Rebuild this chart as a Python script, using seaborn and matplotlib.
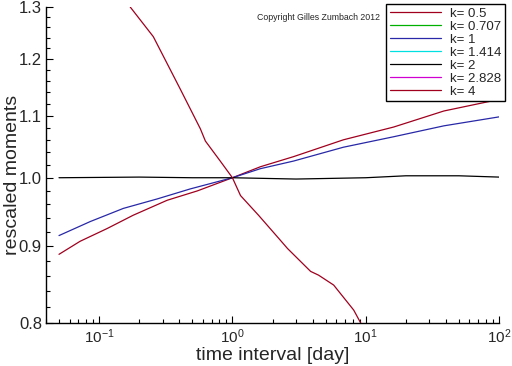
import numpy as np
import pandas as pd
import matplotlib
matplotlib.use("Agg")
import matplotlib.pyplot as plt
from matplotlib.lines import Line2D
from matplotlib.ticker import FixedLocator, FixedFormatter, LogLocator, NullFormatter
import seaborn as sns

# Valores
x_k05 = [0.05, 0.072, 0.115, 0.18, 0.324, 0.546, 1.0, 1.62, 2.88, 6.8, 16.2, 38.6, 91.7, 100]
y_k05 = [0.889, 0.907, 0.925, 0.944, 0.966, 0.980, 1.0, 1.017, 1.033, 1.060, 1.081, 1.108, 1.126, 1.13]

x_k1 = [0.05, 0.086, 0.152, 0.273, 0.483, 1.0, 1.62, 2.88, 6.8, 16.2, 38.6, 100]
y_k1 = [0.915, 0.935, 0.954, 0.968, 0.983, 1.0, 1.014, 1.026, 1.048, 1.065, 1.083, 1.098]

x_k2 = [0.05, 0.2, 0.5, 1.0, 3.0, 10, 20, 50, 100]
y_k2 = [1.0, 1.001, 1.0, 1.0, 0.998, 1.0, 1.003, 1.003, 1.001]

x_k4 = [0.171, 0.255, 0.406, 0.575, 0.627, 0.81, 1.0, 1.15, 1.57, 2.30, 2.59,
        3.86, 4.43, 5.75, 8.13, 9.17]
y_k4 = [1.30, 1.242, 1.146, 1.078, 1.058, 1.026, 1.0, 0.973, 0.944, 0.908, 0.897,
        0.866, 0.861, 0.848, 0.816, 0.80]

k_labels = ["k= 0.5", "k= 0.707", "k= 1", "k= 1.414", "k= 2", "k= 2.828", "k= 4"]
k_colors = ["#a0001e", "#00b000", "#2828a8", "#00e0e0", "#000000", "#d000d0", "#a0001e"]

y_major = [0.8, 0.9, 1.0, 1.1, 1.2, 1.3]

series = {
    "k= 0.5": (x_k05, y_k05),
    "k= 1": (x_k1, y_k1),
    "k= 2": (x_k2, y_k2),
    "k= 4": (x_k4, y_k4),
}

frames = []
for name, (xs, ys) in series.items():
    frames.append(pd.DataFrame({"x": xs, "y": ys, "k": name}))
df = pd.concat(frames, ignore_index=True)

sns.set_theme(style="white")
plt.rcParams["font.family"] = ["Liberation Sans", "DejaVu Sans"]

fig = plt.figure(figsize=(5.12, 3.66), dpi=100)
ax = fig.add_axes([0.09, 0.1175, 499 / 512 - 0.09, 0.8635])

palette = dict(zip(k_labels, k_colors))
for name in series:
    sub = df[df["k"] == name]
    sns.lineplot(data=sub, x="x", y="y", color=palette[name], lw=0.9,
                 ax=ax, legend=False, sort=False, estimator=None)

ax.set_xscale("log")
ax.set_yscale("log")
ax.set_xlim(0.04, 100)
ax.set_ylim(0.8, 1.3)

# Ejes: solo izquierda y abajo, marcas hacia dentro
for side in ["top", "right"]:
    ax.spines[side].set_visible(False)
for side in ["left", "bottom"]:
    ax.spines[side].set_color("black")
    ax.spines[side].set_linewidth(1.0)

ax.yaxis.set_major_locator(FixedLocator(y_major))
ax.yaxis.set_major_formatter(FixedFormatter([f"{v:.1f}" for v in y_major]))
ax.yaxis.set_minor_locator(FixedLocator(np.arange(0.8, 1.301, 0.02)))
ax.yaxis.set_minor_formatter(NullFormatter())
ax.xaxis.set_major_locator(LogLocator(base=10))
ax.xaxis.set_minor_locator(LogLocator(base=10, subs=np.arange(2, 10)))
ax.xaxis.set_minor_formatter(NullFormatter())

ax.tick_params(axis="both", which="major", direction="in", length=5, width=0.8,
               color="black", left=True, bottom=True)
ax.tick_params(axis="both", which="minor", direction="in", length=3, width=0.8,
               color="black", left=True, bottom=True)
ax.tick_params(axis="y", which="major", labelsize=12, pad=3)
ax.tick_params(axis="x", which="major", labelsize=11, pad=3)

ax.set_xlabel("time interval [day]", fontsize=14, labelpad=1)
ax.set_ylabel("rescaled moments", fontsize=14, va="center")
ax.yaxis.set_label_coords(-34 / 453, 0.47)

handles = [Line2D([0], [0], color=c, lw=0.9) for c in k_colors]
leg = fig.legend(handles, k_labels, loc="upper right",
                 bbox_to_anchor=(505 / 512, 1 - 4 / 366), fontsize=9.5,
                 frameon=True, fancybox=False, handlelength=3.9,
                 handletextpad=0.7, labelspacing=0.06, borderpad=0.25,
                 borderaxespad=0)
leg.get_frame().set_edgecolor("black")
leg.get_frame().set_linewidth(1.0)
leg.get_frame().set_alpha(1)

fig.text(257 / 512, 1 - 17 / 366, "Copyright Gilles Zumbach 2012", fontsize=6.3,
         va="center", ha="left")

fig.savefig("out.png", dpi=100)
